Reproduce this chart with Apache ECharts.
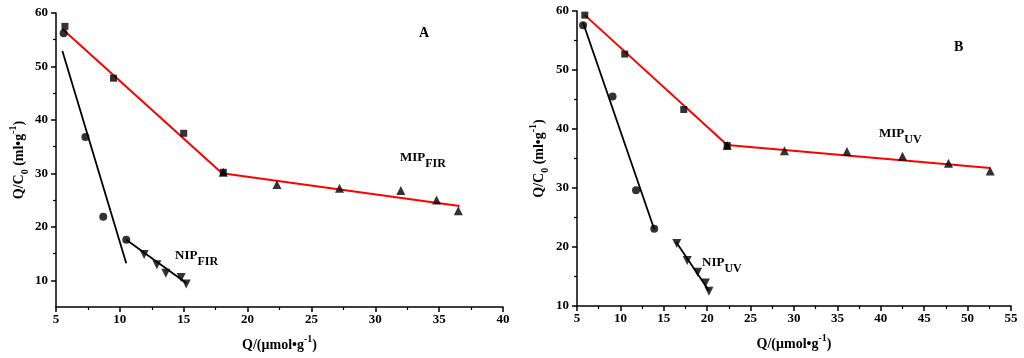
<!DOCTYPE html>
<html>
<head>
<meta charset="utf-8">
<script src="https://cdn.jsdelivr.net/npm/echarts@6/dist/echarts.min.js"></script>
<style>
html,body{margin:0;padding:0;background:#fff;}
#chart{width:1024px;height:358px;}
</style>
</head>
<body>
<div id="chart"></div>
<script>
// ---- Panel A data ----
const mipSqX_A = [5.7, 9.5, 15.0, 18.1];
const mipSqY_A = [57.5, 47.8, 37.5, 30.2];
const mipTriX_A = [18.1, 22.3, 27.2, 32.0, 34.8, 36.5];
const mipTriY_A = [30.2, 27.9, 27.2, 26.8, 25.0, 23.0];
const mipFitX_A = [5.5, 18.0, 36.6];
const mipFitY_A = [57.0, 30.0, 23.9];
const nipCirX_A = [5.6, 7.3, 8.7, 10.5];
const nipCirY_A = [56.2, 36.8, 21.9, 17.6];
const nipFit1X_A = [5.5, 10.5];
const nipFit1Y_A = [52.9, 13.2];
const nipTriX_A = [11.9, 12.9, 13.6, 14.8, 15.2];
const nipTriY_A = [14.8, 12.9, 11.3, 10.5, 9.3];
const nipFit2X_A = [10.5, 15.2];
const nipFit2Y_A = [17.6, 9.5];

// ---- Panel B data ----
const mipSqX_B = [5.9, 10.5, 17.3, 22.3];
const mipSqY_B = [59.3, 52.7, 43.3, 37.2];
const mipTriX_B = [22.3, 28.9, 36.1, 42.5, 47.8, 52.6];
const mipTriY_B = [37.2, 36.3, 36.2, 35.4, 34.2, 32.9];
const mipFitX_B = [5.9, 22.3, 52.6];
const mipFitY_B = [59.3, 37.3, 33.4];
const nipCirX_B = [5.7, 9.1, 11.8, 13.9];
const nipCirY_B = [57.6, 45.5, 29.6, 23.1];
const nipFit1X_B = [5.7, 13.9];
const nipFit1Y_B = [58.0, 23.0];
const nipTriX_B = [16.5, 17.7, 18.9, 19.8, 20.2];
const nipTriY_B = [20.6, 17.7, 15.7, 13.9, 12.5];
const nipFit2X_B = [16.4, 20.2];
const nipFit2Y_B = [20.9, 12.6];

// ---- Tick labels ----
const yLabelsA = [10, 20, 30, 40, 50, 60];
const yMinorA = [15, 25, 35, 45, 55];

const zip = (xs, ys) => xs.map((x, i) => [x, ys[i]]);
const FONT = 'Liberation Serif';

const richTitle = {
  n: {fontFamily: FONT, fontWeight: 'bold', fontSize: 14, color: '#000', lineHeight: 22},
  sup: {fontFamily: FONT, fontWeight: 'bold', fontSize: 10, color: '#000', verticalAlign: 'top', lineHeight: 12},
  sub: {fontFamily: FONT, fontWeight: 'bold', fontSize: 10, color: '#000', verticalAlign: 'bottom', lineHeight: 12}
};
const richLbl = {
  n: {fontFamily: FONT, fontWeight: 'bold', fontSize: 13, color: '#000', lineHeight: 24},
  sub: {fontFamily: FONT, fontWeight: 'bold', fontSize: 12, color: '#000', verticalAlign: 'bottom', lineHeight: 13}
};

const axisLineStyle = {show: true, lineStyle: {color: '#000', width: 1.5}};
const labelStyle = {fontFamily: FONT, fontWeight: 'bold', fontSize: 13, color: '#000'};

function xAxis(grid, min, max) {
  return {
    type: 'value', gridIndex: grid, min: min, max: max, interval: 5,
    axisLine: axisLineStyle,
    axisTick: {show: true, length: 5, lineStyle: {color: '#000', width: 1.5}},
    minorTick: {show: true, splitNumber: 2, length: 3, lineStyle: {color: '#000', width: 1.2}},
    splitLine: {show: false},
    axisLabel: Object.assign({margin: 6}, labelStyle),
    name: '{n|Q/(μmol•g}{sup|-1}{n|)}',
    nameLocation: 'middle', nameGap: 27,
    nameTextStyle: {rich: richTitle}
  };
}

const option = {
  animation: false,
  backgroundColor: '#fff',
  grid: [
    {left: 56, top: 13, width: 447, height: 294},
    {left: 577, top: 11, width: 434, height: 295}
  ],
  xAxis: [
    xAxis(0, 5, 40),
    xAxis(1, 5, 55)
  ],
  yAxis: [
    {
      type: 'value', gridIndex: 0, position: 'left', min: 5, max: 60, interval: 5,
      axisLine: axisLineStyle,
      axisTick: {show: true, length: 5, customValues: yLabelsA, lineStyle: {color: '#000', width: 1.5}},
      splitLine: {show: false},
      axisLabel: Object.assign({margin: 8, customValues: yLabelsA}, labelStyle),
      name: '{n|Q/C}{sub|0}{n| (ml•g}{sup|-1}{n|)}',
      nameLocation: 'middle', nameGap: 26, nameRotate: 90,
      nameTextStyle: {rich: richTitle}
    },
    {
      type: 'value', gridIndex: 0, position: 'left', min: 5, max: 60, interval: 5,
      axisLine: {show: false},
      axisTick: {show: true, length: 3, customValues: yMinorA, lineStyle: {color: '#000', width: 1.2}},
      splitLine: {show: false},
      axisLabel: {show: false}
    },
    {
      type: 'value', gridIndex: 1, position: 'left', min: 10, max: 60, interval: 10,
      axisLine: axisLineStyle,
      axisTick: {show: true, length: 5, lineStyle: {color: '#000', width: 1.5}},
      minorTick: {show: true, splitNumber: 2, length: 3, lineStyle: {color: '#000', width: 1.2}},
      splitLine: {show: false},
      axisLabel: Object.assign({margin: 8}, labelStyle),
      name: '{n|Q/C}{sub|0}{n| (ml•g}{sup|-1}{n|)}',
      nameLocation: 'middle', nameGap: 27, nameRotate: 90,
      nameTextStyle: {rich: richTitle}
    }
  ],
  series: [
    // Panel A
    {type: 'line', xAxisIndex: 0, yAxisIndex: 0, data: zip(mipFitX_A, mipFitY_A), symbol: 'none', lineStyle: {color: '#ff0000', width: 2}, z: 2},
    {type: 'line', xAxisIndex: 0, yAxisIndex: 0, data: zip(nipFit1X_A, nipFit1Y_A), symbol: 'none', lineStyle: {color: '#000', width: 1.8}, z: 2},
    {type: 'line', xAxisIndex: 0, yAxisIndex: 0, data: zip(nipFit2X_A, nipFit2Y_A), symbol: 'none', lineStyle: {color: '#000', width: 1.8}, z: 2},
    {type: 'scatter', xAxisIndex: 0, yAxisIndex: 0, data: zip(mipTriX_A, mipTriY_A), symbol: 'triangle', symbolSize: 9, itemStyle: {color: '#000'}, z: 3},
    {type: 'scatter', xAxisIndex: 0, yAxisIndex: 0, data: zip(mipSqX_A, mipSqY_A), symbol: 'rect', symbolSize: 7, itemStyle: {color: '#000'}, z: 3},
    {type: 'scatter', xAxisIndex: 0, yAxisIndex: 0, data: zip(nipCirX_A, nipCirY_A), symbol: 'circle', symbolSize: 8, itemStyle: {color: '#000'}, z: 3},
    {type: 'scatter', xAxisIndex: 0, yAxisIndex: 0, data: zip(nipTriX_A, nipTriY_A), symbol: 'triangle', symbolRotate: 180, symbolSize: 9, itemStyle: {color: '#000'}, z: 3},
    // Panel B
    {type: 'line', xAxisIndex: 1, yAxisIndex: 2, data: zip(mipFitX_B, mipFitY_B), symbol: 'none', lineStyle: {color: '#ff0000', width: 2}, z: 2},
    {type: 'line', xAxisIndex: 1, yAxisIndex: 2, data: zip(nipFit1X_B, nipFit1Y_B), symbol: 'none', lineStyle: {color: '#000', width: 1.8}, z: 2},
    {type: 'line', xAxisIndex: 1, yAxisIndex: 2, data: zip(nipFit2X_B, nipFit2Y_B), symbol: 'none', lineStyle: {color: '#000', width: 1.8}, z: 2},
    {type: 'scatter', xAxisIndex: 1, yAxisIndex: 2, data: zip(mipTriX_B, mipTriY_B), symbol: 'triangle', symbolSize: 9, itemStyle: {color: '#000'}, z: 3},
    {type: 'scatter', xAxisIndex: 1, yAxisIndex: 2, data: zip(mipSqX_B, mipSqY_B), symbol: 'rect', symbolSize: 7, itemStyle: {color: '#000'}, z: 3},
    {type: 'scatter', xAxisIndex: 1, yAxisIndex: 2, data: zip(nipCirX_B, nipCirY_B), symbol: 'circle', symbolSize: 8, itemStyle: {color: '#000'}, z: 3},
    {type: 'scatter', xAxisIndex: 1, yAxisIndex: 2, data: zip(nipTriX_B, nipTriY_B), symbol: 'triangle', symbolRotate: 180, symbolSize: 9, itemStyle: {color: '#000'}, z: 3}
  ],
  graphic: [
    {type: 'text', left: 419, top: 26, style: {text: 'A', fontFamily: FONT, fontWeight: 'bold', fontSize: 14, fill: '#000'}},
    {type: 'text', left: 954, top: 40, style: {text: 'B', fontFamily: FONT, fontWeight: 'bold', fontSize: 14, fill: '#000'}},
    {type: 'text', left: 400, top: 151, style: {text: '{n|MIP}{sub|FIR}', rich: richLbl}},
    {type: 'text', left: 175, top: 249, style: {text: '{n|NIP}{sub|FIR}', rich: richLbl}},
    {type: 'text', left: 879, top: 127, style: {text: '{n|MIP}{sub|UV}', rich: richLbl}},
    {type: 'text', left: 702, top: 256, style: {text: '{n|NIP}{sub|UV}', rich: richLbl}}
  ]
};

const chart = echarts.init(document.getElementById('chart'), null, {renderer: 'canvas'});
chart.setOption(option);
</script>
</body>
</html>
